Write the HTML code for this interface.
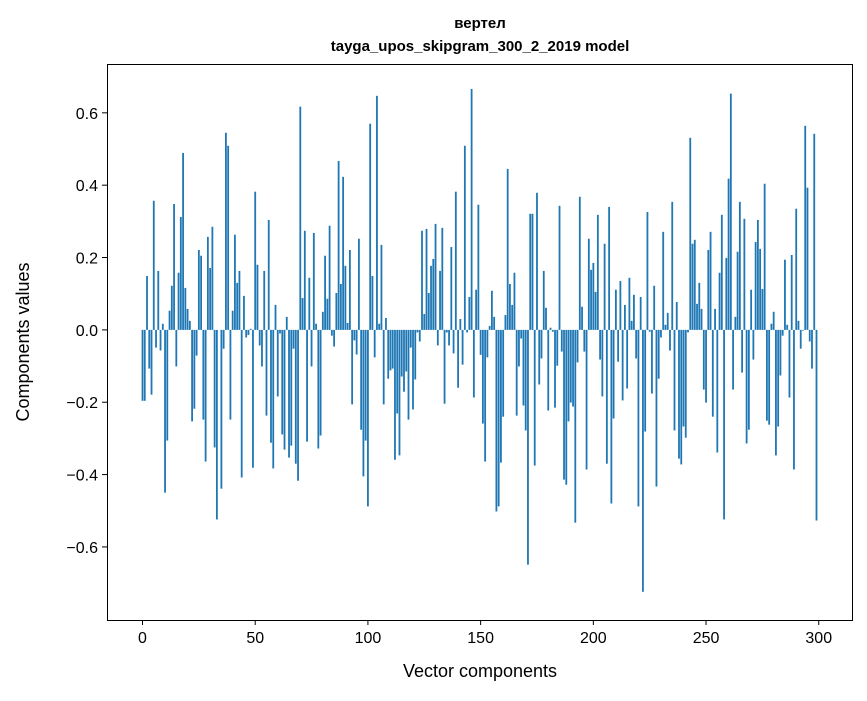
<!DOCTYPE html>
<html><head><meta charset="utf-8"><style>
body{margin:0;background:#fff;}
svg text{font-family:"Liberation Sans","DejaVu Sans",sans-serif;fill:#000;}
</style></head><body>
<svg id="chart" width="867" height="696" xmlns="http://www.w3.org/2000/svg">
<rect width="867" height="696" fill="#fff"/>
<text x="480" y="28" text-anchor="middle" font-size="15" font-weight="bold">вертел</text>
<text x="480" y="51" text-anchor="middle" font-size="15" font-weight="bold">tayga_upos_skipgram_300_2_2019 model</text>
<g id="bars"></g>
<g id="axes"></g>
<rect x="107.5" y="64.5" width="745" height="556" fill="none" stroke="#000" stroke-width="1"/>
<text x="480" y="677" text-anchor="middle" font-size="18">Vector components</text>
<text transform="translate(29,342) rotate(-90)" text-anchor="middle" font-size="18">Components values</text>
</svg>
<script>
const values = [
-0.196,-0.196,0.149,-0.107,-0.179,0.357,-0.049,0.163,-0.057,0.017,
-0.45,-0.306,0.053,0.122,0.348,-0.101,0.158,0.312,0.489,0.116,
0.058,0.025,-0.253,-0.218,-0.071,0.221,0.205,-0.248,-0.364,0.257,
0.171,0.285,-0.325,-0.524,0.0,-0.439,-0.052,0.545,0.509,-0.248,
0.053,0.263,0.130,0.163,-0.408,0.094,-0.021,-0.014,0.003,-0.381,
0.382,0.180,-0.043,-0.101,0.163,-0.237,0.304,-0.312,-0.383,0.069,
-0.184,-0.010,-0.289,-0.331,0.036,-0.353,-0.320,-0.052,-0.370,-0.417,
0.617,0.088,0.274,-0.309,0.144,-0.101,0.268,0.017,-0.328,-0.292,
0.050,0.205,0.086,0.288,-0.016,-0.046,0.102,0.467,0.127,0.423,
0.177,0.019,0.221,-0.206,-0.029,-0.068,0.252,-0.276,-0.405,-0.306,
-0.488,0.570,0.149,-0.076,0.647,0.017,0.235,-0.206,0.033,-0.135,
-0.112,-0.107,-0.359,-0.231,-0.347,-0.129,-0.171,-0.115,-0.248,-0.049,
-0.220,-0.137,-0.007,-0.032,0.274,0.044,0.279,0.102,0.177,0.196,
0.293,-0.043,0.163,0.282,-0.204,-0.007,-0.043,0.229,-0.065,0.382,
-0.160,0.030,-0.096,0.509,-0.007,0.091,0.666,-0.187,0.111,0.346,
-0.069,-0.259,-0.364,-0.076,0.011,0.108,0.036,-0.502,-0.488,-0.367,
-0.240,0.041,0.445,0.127,0.069,0.158,-0.237,-0.101,-0.024,-0.209,
-0.278,-0.649,0.321,0.321,-0.375,0.379,-0.151,-0.079,0.163,0.061,
-0.223,0.006,-0.005,-0.215,-0.099,0.343,-0.060,-0.414,-0.428,-0.253,
-0.201,-0.212,-0.533,-0.090,0.368,0.064,-0.060,-0.386,0.252,0.166,
0.185,0.105,0.318,-0.082,-0.184,0.238,-0.370,0.340,-0.480,-0.245,
0.111,-0.088,0.135,-0.195,0.069,-0.162,0.144,0.025,0.097,-0.079,
-0.488,0.091,-0.724,-0.281,0.326,-0.005,-0.176,0.122,-0.433,-0.135,
-0.021,0.271,0.014,0.047,-0.057,0.354,-0.278,0.077,-0.356,-0.372,
-0.267,-0.298,-0.007,0.531,0.238,0.249,0.072,0.130,0.058,-0.165,
-0.201,0.221,0.271,-0.240,0.058,-0.339,0.158,0.318,-0.524,0.199,
0.418,0.653,-0.165,0.036,0.216,0.354,-0.118,0.307,-0.314,-0.276,
0.111,-0.082,0.243,0.304,0.224,0.113,0.404,-0.251,-0.262,0.017,
0.050,-0.347,-0.267,-0.126,-0.016,0.194,0.014,-0.187,0.207,-0.386,
0.335,0.025,-0.052,-0.002,0.564,0.393,-0.032,-0.107,0.542,-0.527
];
const xTicks = [0,50,100,150,200,250,300];
const yTicks = [-0.6,-0.4,-0.2,0.0,0.2,0.4,0.6];

const NS = "http://www.w3.org/2000/svg";
const L = 107, R = 852, T = 64, B = 620;
const xMin = -15.75, xMax = 314.75, yMin = -0.802, yMax = 0.735;
function xs(v){ return L + (v - xMin) / (xMax - xMin) * (R - L); }
function ys(v){ return T + (yMax - v) / (yMax - yMin) * (B - T); }

const barsG = document.getElementById('bars');
const bw = (xs(1) - xs(0)) * 0.8;
values.forEach((v, i) => {
  const r = document.createElementNS(NS, 'rect');
  const y0 = ys(0), y1 = ys(v);
  r.setAttribute('x', xs(i) - bw / 2);
  r.setAttribute('y', Math.min(y0, y1));
  r.setAttribute('width', bw);
  r.setAttribute('height', Math.abs(y1 - y0));
  r.setAttribute('fill', '#1f77b4');
  
  
  barsG.appendChild(r);
});

const axesG = document.getElementById('axes');
xTicks.forEach(t => {
  const x = xs(t);
  const ln = document.createElementNS(NS, 'line');
  ln.setAttribute('x1', x); ln.setAttribute('x2', x);
  ln.setAttribute('y1', B); ln.setAttribute('y2', B + 5);
  ln.setAttribute('stroke', '#000');
  
  
  axesG.appendChild(ln);
  const tx = document.createElementNS(NS, 'text');
  tx.setAttribute('x', x); tx.setAttribute('y', B + 23);
  tx.setAttribute('text-anchor', 'middle');
  tx.setAttribute('font-size', '16');
  tx.textContent = String(t);
  
  
  axesG.appendChild(tx);
});
yTicks.forEach(t => {
  const y = ys(t);
  const ln = document.createElementNS(NS, 'line');
  ln.setAttribute('x1', L - 5); ln.setAttribute('x2', L);
  ln.setAttribute('y1', y); ln.setAttribute('y2', y);
  ln.setAttribute('stroke', '#000');
  
  
  axesG.appendChild(ln);
  const tx = document.createElementNS(NS, 'text');
  tx.setAttribute('x', L - 9); tx.setAttribute('y', y + 6);
  tx.setAttribute('text-anchor', 'end');
  tx.setAttribute('font-size', '16');
  tx.textContent = (t < 0 ? '\u2212' : '') + Math.abs(t).toFixed(1);
  
  
  axesG.appendChild(tx);
});
</script>
</body></html>
